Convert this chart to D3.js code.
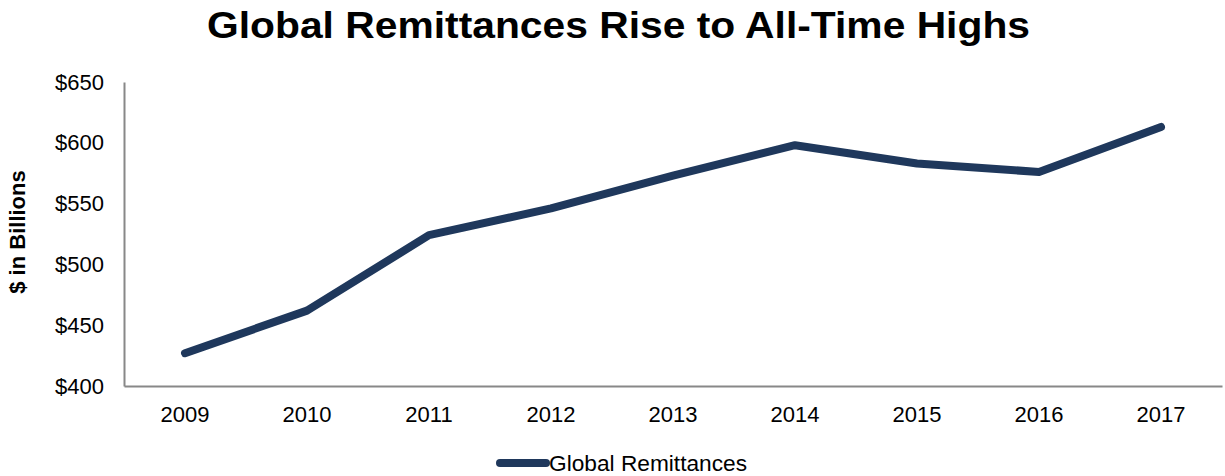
<!DOCTYPE html>
<html>
<head>
<meta charset="utf-8">
<script src="https://cdn.jsdelivr.net/npm/d3@7"></script>
<style>
  html, body { margin: 0; padding: 0; background: #fff; overflow: hidden; }
  svg { display: block; }
  svg text { font-family: "Liberation Sans", Arial, sans-serif; fill: #000; }
</style>
</head>
<body>
<div id="chart"></div>
<script>
const years = ["2009", "2010", "2011", "2012", "2013", "2014", "2015", "2016", "2017"];
const remittances = [427, 462, 524, 546, 573, 598, 583, 576, 613];
const yTicks = [400, 450, 500, 550, 600, 650];

const width = 1225, height = 476;
const margin = { left: 124, right: 3, top: 82, bottom: 90 };
const innerWidth = width - margin.left - margin.right;
const innerHeight = height - margin.top - margin.bottom;

const svg = d3.select("#chart").append("svg")
    .attr("width", width)
    .attr("height", height);

// title
svg.append("text")
    .attr("x", 207)
    .attr("y", 38)
    .attr("textLength", 823)
    .attr("lengthAdjust", "spacingAndGlyphs")
    .style("font-size", "37px")
    .style("font-weight", "bold")
    .text("Global Remittances Rise to All-Time Highs");

const g = svg.append("g")
    .attr("transform", "translate(" + margin.left + "," + margin.top + ")");

const xScale = d3.scaleBand().domain(years).range([0, innerWidth]);
const yScale = d3.scaleLinear().domain([400, 650]).range([innerHeight, 0]);

// y axis
const yAxis = g.append("g")
    .call(d3.axisLeft(yScale).tickValues(yTicks).tickSize(0).tickPadding(20)
        .tickFormat(d => "$" + d));
yAxis.select(".domain").attr("stroke", "#888").attr("stroke-width", 2);
yAxis.selectAll("text").style("font-size", "22px");

// x axis
const xAxis = g.append("g")
    .attr("transform", "translate(0," + innerHeight + ")")
    .call(d3.axisBottom(xScale).tickSize(0).tickPadding(20));
xAxis.select(".domain").attr("stroke", "#888").attr("stroke-width", 2);
xAxis.selectAll("text").style("font-size", "22px");

// y label
svg.append("text")
    .attr("transform", "translate(25," + (margin.top + innerHeight / 2 - 2) + ") rotate(-90)")
    .attr("text-anchor", "middle")
    .style("font-size", "22px")
    .style("font-weight", "bold")
    .text("$ in Billions");

// line
const line = d3.line()
    .x((d, i) => xScale(years[i]) + xScale.bandwidth() / 2)
    .y(d => yScale(d));

g.append("path")
    .datum(remittances)
    .attr("fill", "none")
    .attr("stroke", "#1f385c")
    .attr("stroke-width", 8)
    .attr("stroke-linecap", "round")
    .attr("stroke-linejoin", "round")
    .attr("d", line);

// legend
const legend = svg.append("g").attr("transform", "translate(497,463)");
legend.append("line")
    .attr("x1", 3).attr("x2", 49)
    .attr("y1", 0).attr("y2", 0)
    .attr("stroke", "#1f385c")
    .attr("stroke-width", 8)
    .attr("stroke-linecap", "round");
legend.append("text")
    .attr("x", 52)
    .attr("y", 8)
    .attr("textLength", 198)
    .attr("lengthAdjust", "spacingAndGlyphs")
    .style("font-size", "22px")
    .text("Global Remittances");
</script>
</body>
</html>
